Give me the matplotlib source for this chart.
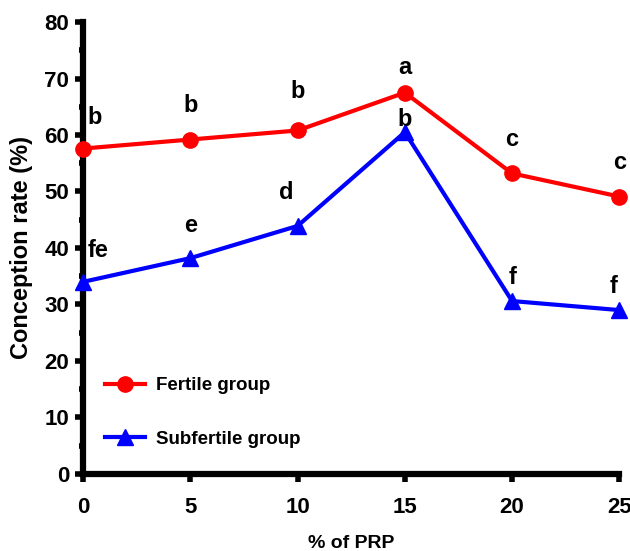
import matplotlib
matplotlib.use("Agg")
import matplotlib.pyplot as plt
from matplotlib.ticker import MultipleLocator

prp = [0, 5, 10, 15, 20, 25]
fertile = [57.6, 59.2, 60.8, 67.5, 53.2, 49.1]
subfertile = [34.0, 38.2, 43.9, 60.5, 30.6, 29.0]
fertile_letters = ["b", "b", "b", "a", "c", "c"]
subfertile_letters = ["fe", "e", "d", "b", "f", "f"]

plt.rcParams["font.family"] = ["Liberation Sans", "DejaVu Sans"]
plt.rcParams["font.weight"] = "bold"

fig = plt.figure(figsize=(6.3, 5.51), dpi=100)
ax = fig.add_axes([0.132, 0.140, 0.851, 0.820])

ax.plot(prp, fertile, color="#ff0000", lw=3, marker="o", ms=11,
        clip_on=False, zorder=3, label="Fertile group")
ax.plot(prp, subfertile, color="#0000ff", lw=3, marker="^", ms=11,
        clip_on=False, zorder=3, label="Subfertile group")

# letter offsets in points, relative to each point
f_off = [(8, 14), (0, 16), (0, 20), (0, 10), (0, 16), (0, 16)]
s_off = [(11, 14), (0, 15), (-8, 16), (0, 1), (0, 9), (-4, 9)]
for x, y, t, o in zip(prp, fertile, fertile_letters, f_off):
    ax.annotate(t, (x, y), xytext=o, textcoords="offset points",
                ha="center", va="bottom", fontsize=17, fontweight="bold")
for x, y, t, o in zip(prp, subfertile, subfertile_letters, s_off):
    ax.annotate(t, (x, y), xytext=o, textcoords="offset points",
                ha="center", va="bottom", fontsize=17, fontweight="bold")

ax.set_xlim(0, 25)
ax.set_ylim(0, 80)
ax.set_xticks(prp)
ax.yaxis.set_major_locator(MultipleLocator(10))
ax.yaxis.set_minor_locator(MultipleLocator(5))

for side in ["top", "right"]:
    ax.spines[side].set_visible(False)
for side in ["left", "bottom"]:
    ax.spines[side].set_linewidth(4.5)

ax.tick_params(which="major", length=6, width=4, labelsize=16, pad=4)
ax.tick_params(which="minor", length=3, width=4)
ax.tick_params(axis="x", pad=11)

ax.set_ylabel("Conception rate (%)", fontsize=17, fontweight="bold", labelpad=8)
ax.set_xlabel("% of PRP", fontsize=14, fontweight="bold", labelpad=12)

ax.legend(loc="lower left", bbox_to_anchor=(0.01, 0.02), frameon=False,
          handlelength=2.1, labelspacing=1.95, handletextpad=0.6,
          prop={"weight": "bold", "size": 13.5})

fig.savefig("out.png", dpi=100)
